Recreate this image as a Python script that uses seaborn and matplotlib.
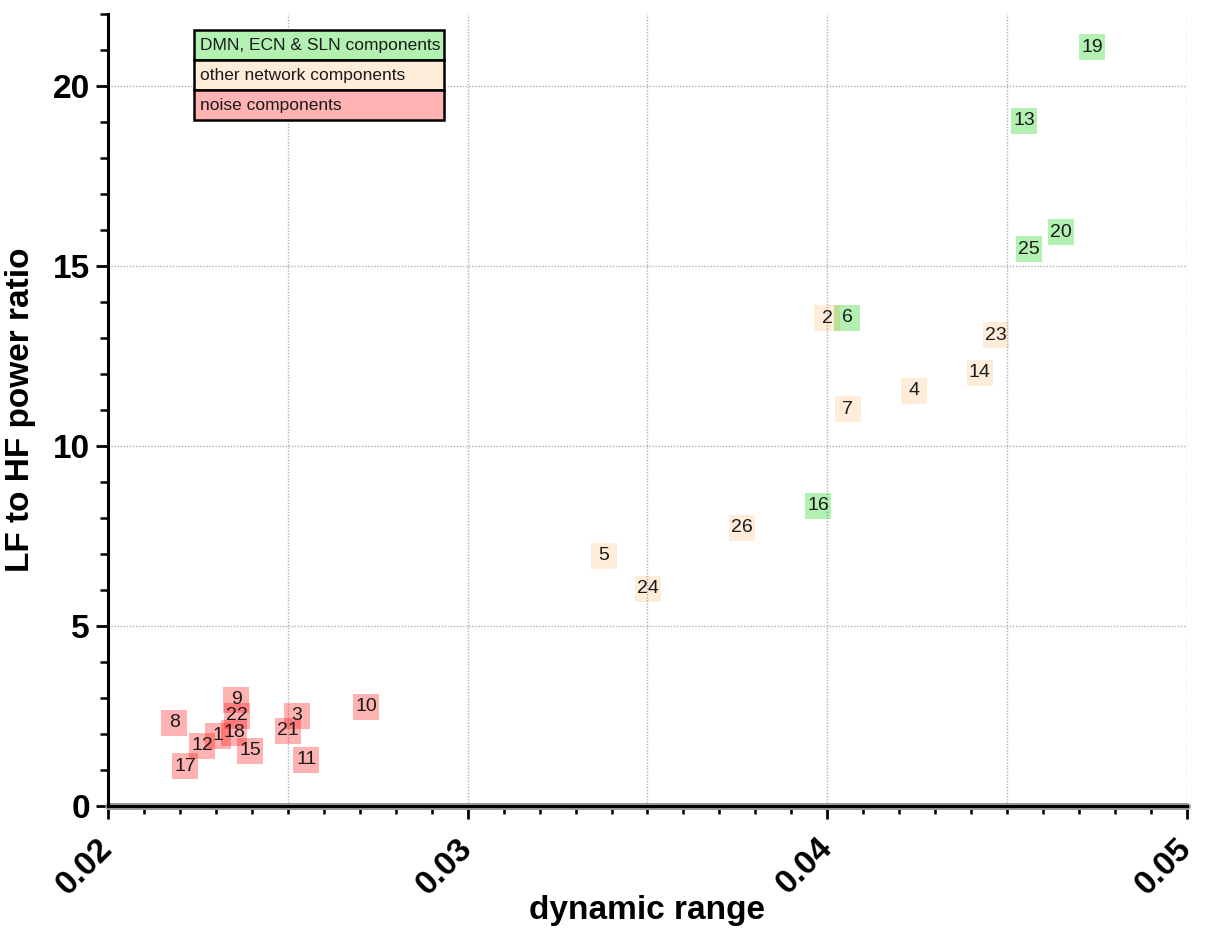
import matplotlib
matplotlib.use("Agg")
import matplotlib.pyplot as plt
from matplotlib.patches import Rectangle
from matplotlib.ticker import MultipleLocator, FormatStrFormatter
import seaborn as sns
import pandas as pd

# component numbers, dynamic range, LF/HF power ratio and group
components = [19, 13, 20, 25, 6, 16,
              2, 23, 14, 4, 7, 26, 5, 24,
              10, 9, 22, 8, 3, 21, 18, 1, 12, 17, 15, 11]
dynamic_range = [0.04736, 0.04547, 0.04650, 0.04561, 0.04055, 0.03974,
                 0.03999, 0.04469, 0.04424, 0.04241, 0.04057, 0.03763, 0.03379, 0.03501,
                 0.02717, 0.02356, 0.02359, 0.02184, 0.02525, 0.02500, 0.02350, 0.02306,
                 0.02261, 0.02214, 0.02395, 0.02551]
lf_hf_ratio = [21.08, 19.03, 15.94, 15.47, 13.57, 8.34,
               13.55, 13.07, 12.04, 11.54, 11.02, 7.73, 6.95, 6.04,
               2.75, 2.95, 2.50, 2.31, 2.50, 2.09, 2.03, 1.95,
               1.67, 1.11, 1.53, 1.28]
groups = (["DMN, ECN & SLN components"] * 6
          + ["other network components"] * 8
          + ["noise components"] * 12)
group_order = ["DMN, ECN & SLN components", "other network components", "noise components"]

df = pd.DataFrame({"component": components, "dynamic range": dynamic_range,
                   "ratio": lf_hf_ratio, "group": groups})

# translucent marker colours and their opaque look on white (for the key)
marker_colors = {"DMN, ECN & SLN components": (0.0, 0.82, 0.0),
                 "other network components": (1.0, 0.5, 0.0),
                 "noise components": (1.0, 0.0, 0.0)}
marker_alpha = {"DMN, ECN & SLN components": 0.30,
                "other network components": 0.15,
                "noise components": 0.30}
key_colors = {g: tuple(1 - marker_alpha[g] * (1 - c) for c in marker_colors[g])
              for g in group_order}

sns.set_style("white")
plt.rcParams["font.family"] = ["Liberation Sans", "DejaVu Sans"]
plt.rcParams["text.color"] = "black"
plt.rcParams["axes.labelcolor"] = "black"
plt.rcParams["xtick.color"] = "black"
plt.rcParams["ytick.color"] = "black"

fig = plt.figure(figsize=(12.07, 9.36), dpi=100)
ax = fig.add_axes([0.0895, 0.1389, 0.8939, 0.8461])

for g in group_order:
    sub = df[df["group"] == g]
    sns.scatterplot(data=sub, x="dynamic range", y="ratio", marker="s", s=370,
                    color=marker_colors[g], alpha=marker_alpha[g], linewidth=0,
                    ax=ax, zorder=3, legend=False)

for _, row in df.iterrows():
    ax.text(row["dynamic range"], row["ratio"], str(row["component"]),
            ha="center", va="center", fontsize=14, color="#1a1a1a", zorder=4)

ax.set_xlim(0.02, 0.05)
ax.set_ylim(0, 22)

ax.xaxis.set_major_locator(MultipleLocator(0.01))
ax.xaxis.set_minor_locator(MultipleLocator(0.001))
ax.yaxis.set_major_locator(MultipleLocator(5))
ax.yaxis.set_minor_locator(MultipleLocator(1))
ax.xaxis.set_major_formatter(FormatStrFormatter("%.2f"))

# dotted grid every 0.005 along x and every 5 along y
for xv in [0.025, 0.03, 0.035, 0.04, 0.045, 0.05]:
    ax.axvline(xv, color="#b0b0b0", lw=1.0, ls=(0, (1, 1.2)), zorder=1)
for yv in [5, 10, 15, 20]:
    ax.axhline(yv, color="#b0b0b0", lw=1.0, ls=(0, (1, 1.2)), zorder=1)
ax.axhline(0, color="#999999", lw=5, zorder=1, clip_on=False)

for side in ["top", "right"]:
    ax.spines[side].set_visible(False)
for side in ["left", "bottom"]:
    ax.spines[side].set_linewidth(2.2)
    ax.spines[side].set_color("black")
    ax.spines[side].set_zorder(5)

ax.tick_params(axis="both", which="both", bottom=True, left=True,
               top=False, right=False)
ax.tick_params(axis="both", which="major", direction="out", length=9, width=2,
               color="black", labelsize=24, labelcolor="black")
ax.tick_params(axis="both", which="minor", direction="out", length=6, width=1.8,
               color="black")
ax.tick_params(axis="x", which="major", pad=18)
ax.tick_params(axis="y", which="major", pad=4)

for lab in ax.get_yticklabels():
    lab.set_fontweight("bold")
for lab in ax.get_xticklabels():
    lab.set_fontweight("bold")
    lab.set_rotation(45)
    lab.set_ha("right")
    lab.set_va("center")
    lab.set_rotation_mode("anchor")

ax.set_xlabel("dynamic range", fontsize=24, fontweight="bold", labelpad=-4)
ax.set_ylabel("LF to HF power ratio", fontsize=24, fontweight="bold", labelpad=12)

# group key: three stacked framed boxes
key_x, key_w = 0.0797, 0.2317
key_top, key_h = 0.9798, 0.0379
for i, g in enumerate(group_order):
    y0 = key_top - (i + 1) * key_h
    ax.add_patch(Rectangle((key_x, y0), key_w, key_h, transform=ax.transAxes,
                           facecolor=key_colors[g], edgecolor="black", lw=1.8,
                           zorder=6, clip_on=False))
    ax.text(key_x + 0.006, y0 + key_h / 2, g, transform=ax.transAxes,
            ha="left", va="center", fontsize=12.5, color="#1a1a1a", zorder=7)

fig.savefig("out.png", dpi=100)
